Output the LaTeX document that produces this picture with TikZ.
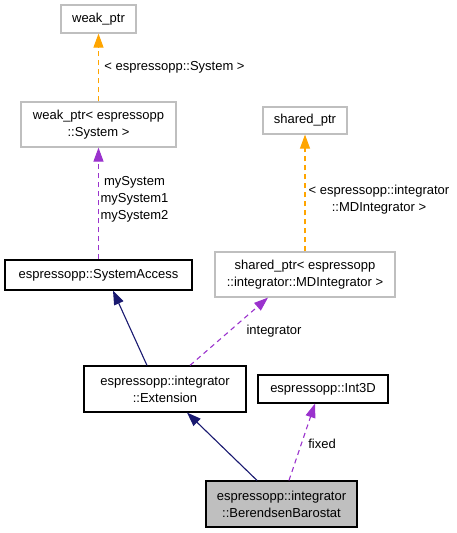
\documentclass[tikz,border=0pt]{standalone}
\usepackage{fontspec}
\setmainfont{Liberation Sans}
\usetikzlibrary{arrows.meta, positioning}
\usepackage{xcolor}
\definecolor{doxnavy}{RGB}{25,25,112}
\definecolor{doxpurple}{RGB}{154,50,205}
\definecolor{doxorange}{RGB}{255,165,0}
\definecolor{doxgray}{RGB}{191,191,191}
\newcommand{\doxfont}{\fontsize{13}{17}\selectfont}

\begin{document}
\begin{tikzpicture}[
  x=1pt, y=-1pt,
  cls/.style={draw=black, fill=white, line width=1.2pt, align=center,
              inner sep=0pt, font=\doxfont},
  ext/.style={cls, draw=doxgray},
  focus/.style={cls, fill=doxgray},
  inherit/.style={-{Triangle[length=14pt, width=10pt]}, doxnavy, line width=1.1pt},
  usage/.style={inherit, doxpurple, dash pattern=on 5pt off 4pt},
  tmpl/.style={inherit, doxorange, dash pattern=on 5pt off 4pt},
  lbl/.style={font=\doxfont, align=center, inner sep=0pt},
]
  \useasboundingbox (0,0) rectangle (456,533);

  % Classes
  \node[ext, minimum width=75pt, minimum height=28pt] (weakbase) at (98.5,19) {weak\_ptr};
  \node[ext, minimum width=155pt, minimum height=45pt] (weaksys) at (98.5,124.5)
    {weak\_ptr< espressopp\\::System >};
  \node[cls, minimum width=187pt, minimum height=30pt] (sysacc) at (98.5,275)
    {espressopp::SystemAccess};
  \node[ext, minimum width=84pt, minimum height=27pt] (sharedbase) at (305,120.5) {shared\_ptr};
  \node[ext, minimum width=180pt, minimum height=45pt] (sharedmd) at (305,274.5)
    {shared\_ptr< espressopp\\::integrator::MDIntegrator >};
  \node[cls, minimum width=162pt, minimum height=46pt] (extension) at (165,389)
    {espressopp::integrator\\::Extension};
  \node[cls, minimum width=130pt, minimum height=28pt] (int3d) at (323,389)
    {espressopp::Int3D};
  \node[focus, minimum width=151pt, minimum height=46pt] (barostat) at (281.5,504)
    {espressopp::integrator\\::BerendsenBarostat};

  % Inheritance
  \draw[inherit] ([xshift=-24.5pt]barostat.north) -- ([xshift=22pt]extension.south);
  \draw[inherit] ([xshift=-18pt]extension.north) -- ([xshift=14.5pt]sysacc.south);

  % Usage
  \draw[usage] ([xshift=7.5pt]barostat.north) -- ([xshift=-8pt]int3d.south);
  \draw[usage] ([xshift=25pt]extension.north) -- ([xshift=-37pt]sharedmd.south);
  \draw[usage] (sysacc.north) -- (weaksys.south);

  % Templates
  \draw[tmpl] (weaksys.north) -- (weakbase.south);
  \draw[tmpl] (sharedmd.north) -- (sharedbase.south);

  % Edge labels
  \node[lbl] (lblsys) at (174.5,67) {< espressopp::System >};
  \node[lbl] (lblmysys) at (134.5,199) {mySystem\\mySystem1\\mySystem2};
  \node[lbl] (lblmd) at (379,200) {< espressopp::integrator\\::MDIntegrator >};
  \node[lbl] (lblint) at (274,331) {integrator};
  \node[lbl] (lblfixed) at (322,444) {fixed};
\end{tikzpicture}
\end{document}
